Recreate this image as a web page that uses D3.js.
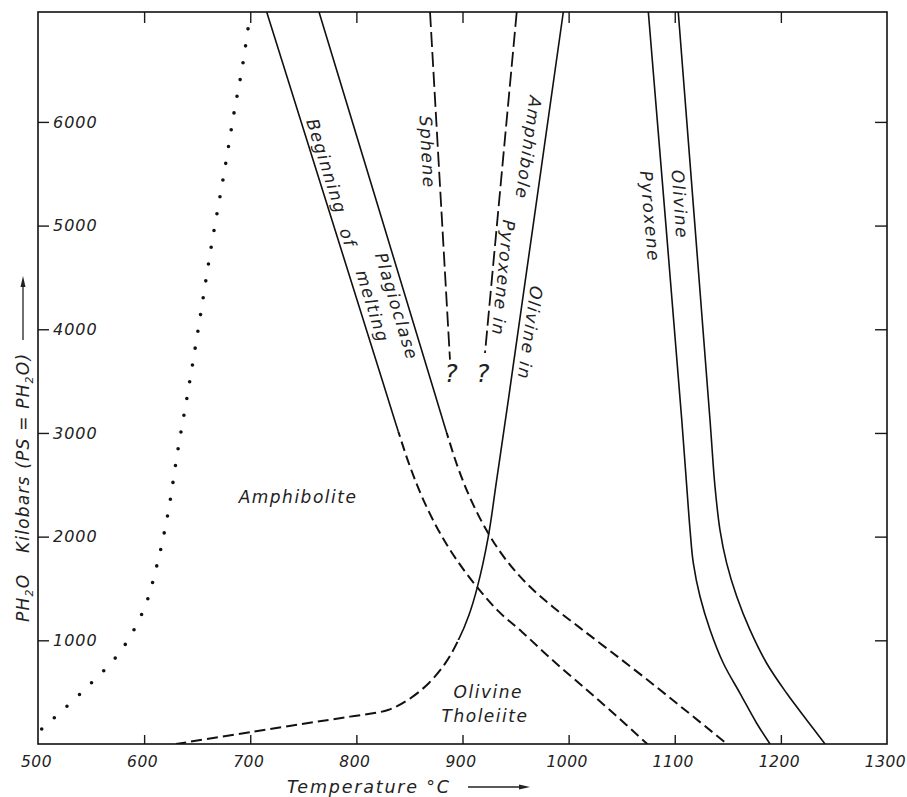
<!DOCTYPE html>
<html>
<head>
<meta charset="utf-8">
<script src="https://cdnjs.cloudflare.com/ajax/libs/d3/7.8.5/d3.min.js"></script>
<style>
  html, body { margin: 0; padding: 0; background: #fff; }
  svg { display: block; }
  text { font-family: "DejaVu Sans", sans-serif; font-style: italic; fill: #222; }
  .tick line { stroke: #1a1a1a; stroke-width: 1.4; }
  .tick text { font-size: 16px; letter-spacing: 1px; }
  .xax .tick text { font-size: 15.5px; letter-spacing: 0.5px; }
  .lbl { font-size: 17px; letter-spacing: 1.5px; }
</style>
</head>
<body>
<svg id="chart" width="907" height="797"></svg>
<script>
// axis ticks
var tempTicks = [500, 600, 700, 800, 900, 1000, 1100, 1200, 1300];
var innerTempTicks = [600, 700, 800, 900, 1000, 1100, 1200];
var pressTicks = [1000, 2000, 3000, 4000, 5000, 6000];

// curves as [temperature °C, P H2O bars]
var dryLimit = [[503.5, 145], [540.5, 492], [577.3, 888], [599.9, 1303], [611.9, 1718], [622.2, 2210],
  [632.2, 2860], [640.7, 3359], [651.7, 4047], [663.3, 4800], [675.6, 5521], [685.4, 6129],
  [692.3, 6513], [697.9, 6899]];
var melting = [[715.5, 7060], [824.6, 3500], [839.5, 3014], [850.5, 2677], [863.1, 2355], [878.8, 2034],
  [894.5, 1776], [913.4, 1518], [933.5, 1284], [956.1, 1081], [982.5, 830], [1010.7, 579],
  [1040.9, 309], [1074.1, 0]];
var plagioclase = [[764.8, 7060], [874.8, 3350], [885.1, 3002], [895.8, 2664], [908.0, 2355],
  [924.0, 2037], [941.0, 1776], [961.7, 1535], [985.3, 1322], [1010.7, 1120], [1039.0, 898],
  [1072.0, 637], [1109.7, 328], [1149.3, 0]];
var olivineIn = [[995.0, 7060], [943.2, 3320], [932.2, 2548], [924.3, 2001], [914.1, 1518],
  [906.1, 1245], [896.2, 1004], [884.0, 782], [868.4, 589], [848.6, 425], [829.8, 328],
  [794.0, 264], [753.2, 200], [702.9, 119], [630.0, 0]];
var sphene = [[869.4, 7060], [888.2, 3707]];
var pyroxeneIn = [[951.1, 7060], [921.2, 3771]];
var pyroxeneOut = [[1075.1, 7060], [1106.6, 3127], [1111.3, 2484], [1114.4, 2066], [1117.5, 1744],
  [1123.8, 1422], [1133.3, 1100], [1145.8, 779], [1161.5, 489], [1177.2, 200], [1189.8, 0]];
var olivineOut = [[1103.3, 7060], [1133.2, 3127], [1137.9, 2484], [1142.6, 2066], [1148.9, 1744],
  [1158.4, 1422], [1170.9, 1100], [1186.6, 779], [1205.5, 489], [1224.3, 232], [1241.6, 0]];

// pressure below which each boundary is only inferred (drawn dashed)
var meltingInferredBelow = 3012;
var plagioclaseInferredBelow = 3000;
var olivineInInferredBelow = 1004;

// field and curve names: [text, T, P, rotation]
var curveNames = [
  ["Beginning", 772.0, 5572, 72.5],
  ["of", 792.1, 4884, 72.5],
  ["melting", 815.2, 4221, 72.5],
  ["Plagioclase", 838.0, 4221, 73],
  ["Sphene", 867.0, 5709, 87],
  ["Amphibole", 962.2, 5750, 98],
  ["Pyroxene in", 938.5, 4495, 95.5],
  ["Olivine in", 963.6, 3964, 98],
  ["Olivine", 1104.9, 5203, 86],
  ["Pyroxene", 1076.7, 5089, 85],
  ["Amphibolite", 745, 2384, 0],
  ["Olivine", 924.3, 505, 0],
  ["Tholeiite", 921.2, 272, 0]
];
var queries = [[889.2, 3571], [919.3, 3571]];

var svg = d3.select("#chart");
svg.append("rect").attr("width", 907).attr("height", 797).attr("fill", "#fff");

var x = d3.scaleLinear().domain([500, 1300]).range([38, 887]);
var y = d3.scaleLinear().domain([0, 7060]).range([744, 12]);

var defs = svg.append("defs");
defs.append("clipPath").attr("id", "plot").append("rect")
  .attr("x", x(500)).attr("y", y(7060))
  .attr("width", x(1300) - x(500)).attr("height", y(0) - y(7060));

// clip the upper (solid) or lower (dashed) part of a curve at a pressure
function band(id, pTop, pBottom) {
  defs.append("clipPath").attr("id", id).append("rect")
    .attr("x", x(500)).attr("y", y(pTop))
    .attr("width", x(1300) - x(500)).attr("height", y(pBottom) - y(pTop));
  return "url(#" + id + ")";
}

// axes, ticks pointing inwards
var gb = svg.append("g").attr("class", "xax").attr("transform", "translate(0," + y(0) + ")")
  .call(d3.axisBottom(x).tickValues(tempTicks).tickFormat(d3.format("d"))
    .tickSizeInner(-9).tickSizeOuter(0).tickPadding(12));
gb.selectAll(".tick").filter(function(d) { return d == 500 || d == 1300; }).select("line").remove();
gb.selectAll("text").attr("dx", -2);

svg.append("g").attr("transform", "translate(0," + y(7060) + ")")
  .call(d3.axisTop(x).tickValues(innerTempTicks).tickSize(-11).tickFormat(""));

var gl = svg.append("g").attr("transform", "translate(" + x(500) + ",0)")
  .call(d3.axisLeft(y).tickValues(pressTicks).tickFormat(d3.format("d"))
    .tickSizeInner(-11).tickSizeOuter(0));
gl.selectAll("text").attr("x", 15).attr("text-anchor", "start");

svg.append("g").attr("transform", "translate(" + x(1300) + ",0)")
  .call(d3.axisRight(y).tickValues(pressTicks).tickSize(-12).tickFormat(""));

svg.selectAll(".domain").remove();

svg.append("rect")
  .attr("x", x(500)).attr("y", y(7060))
  .attr("width", x(1300) - x(500)).attr("height", y(0) - y(7060))
  .attr("fill", "none").attr("stroke", "#111").attr("stroke-width", 1.6);

// curves
var line = d3.line()
  .x(function(d) { return x(d[0]); })
  .y(function(d) { return y(d[1]); })
  .curve(d3.curveCatmullRom.alpha(0.5));

var plot = svg.append("g").attr("clip-path", "url(#plot)");

function solidPath(g, pts) {
  return g.append("path").datum(pts).attr("d", line)
    .attr("fill", "none").attr("stroke", "#111").attr("stroke-width", 1.6);
}
function dashedPath(g, pts, dash) {
  return g.append("path").datum(pts).attr("d", line)
    .attr("fill", "none").attr("stroke", "#111").attr("stroke-width", 2)
    .attr("stroke-dasharray", dash);
}

// solid where observed, dashed where inferred
[["melt", melting, meltingInferredBelow, "10 5"],
 ["plag", plagioclase, plagioclaseInferredBelow, "10 5"],
 ["olin", olivineIn, olivineInInferredBelow, "11 5"]].forEach(function(c) {
  solidPath(plot.append("g").attr("clip-path", band(c[0] + "-hi", 7060, c[2])), c[1]);
  dashedPath(plot.append("g").attr("clip-path", band(c[0] + "-lo", c[2], 0)), c[1], c[3]);
});

solidPath(plot, pyroxeneOut);
solidPath(plot, olivineOut);
dashedPath(plot, sphene, "15 5").attr("stroke-width", 1.8);
dashedPath(plot, pyroxeneIn, "15 5").attr("stroke-width", 1.8);

var dots = plot.append("path")
  .datum(dryLimit)
  .attr("d", line)
  .attr("fill", "none").attr("stroke", "#111").attr("stroke-width", 3.6)
  .attr("stroke-linecap", "round");
var len = dots.node().getTotalLength();
dots.attr("stroke-dasharray", "0 " + (len / 44 - 0.01));

// labels
svg.selectAll("text.lbl").data(curveNames).enter().append("text")
  .attr("class", "lbl")
  .attr("transform", function(d) {
    return "translate(" + x(d[1]) + "," + y(d[2]) + ") rotate(" + d[3] + ")";
  })
  .attr("text-anchor", "middle")
  .attr("dominant-baseline", "central")
  .text(function(d) { return d[0]; });

svg.selectAll("text.q").data(queries).enter().append("text")
  .attr("class", "q")
  .attr("x", function(d) { return x(d[0]); })
  .attr("y", function(d) { return y(d[1]); })
  .attr("text-anchor", "middle")
  .attr("dominant-baseline", "central")
  .style("font-size", "25px")
  .text("?");

// axis titles
function arrow(g, x0, x1, yy) {
  g.append("line").attr("x1", x0).attr("x2", x1 - 6).attr("y1", yy).attr("y2", yy)
    .attr("stroke", "#222").attr("stroke-width", 1.3);
  g.append("path")
    .attr("d", "M" + x1 + "," + yy + "L" + (x1 - 11) + "," + (yy - 2.5) + "L" + (x1 - 11) + "," + (yy + 2.5) + "Z")
    .attr("fill", "#222");
}

var xt = svg.append("g");
xt.append("text")
  .attr("x", 287).attr("y", 793)
  .style("font-size", "17.5px").style("letter-spacing", "1.8px")
  .text("Temperature °C");
arrow(xt, 468, 530, 787);

var yt = svg.append("g").attr("transform", "translate(29,622) rotate(-90)");
var t1 = yt.append("text").style("font-size", "17px").style("letter-spacing", "1.2px");
t1.append("tspan").text("PH");
t1.append("tspan").attr("dy", 4).style("font-size", "11px").text("2");
t1.append("tspan").attr("dy", -4).text("O");
var t2 = yt.append("text").attr("x", 69).style("font-size", "17px").style("letter-spacing", "1.2px");
t2.append("tspan").text("Kilobars (PS = PH");
t2.append("tspan").attr("dy", 4).style("font-size", "11px").text("2");
t2.append("tspan").attr("dy", -4).text("O)");
arrow(yt, 282, 346, -6);
</script>
</body>
</html>
